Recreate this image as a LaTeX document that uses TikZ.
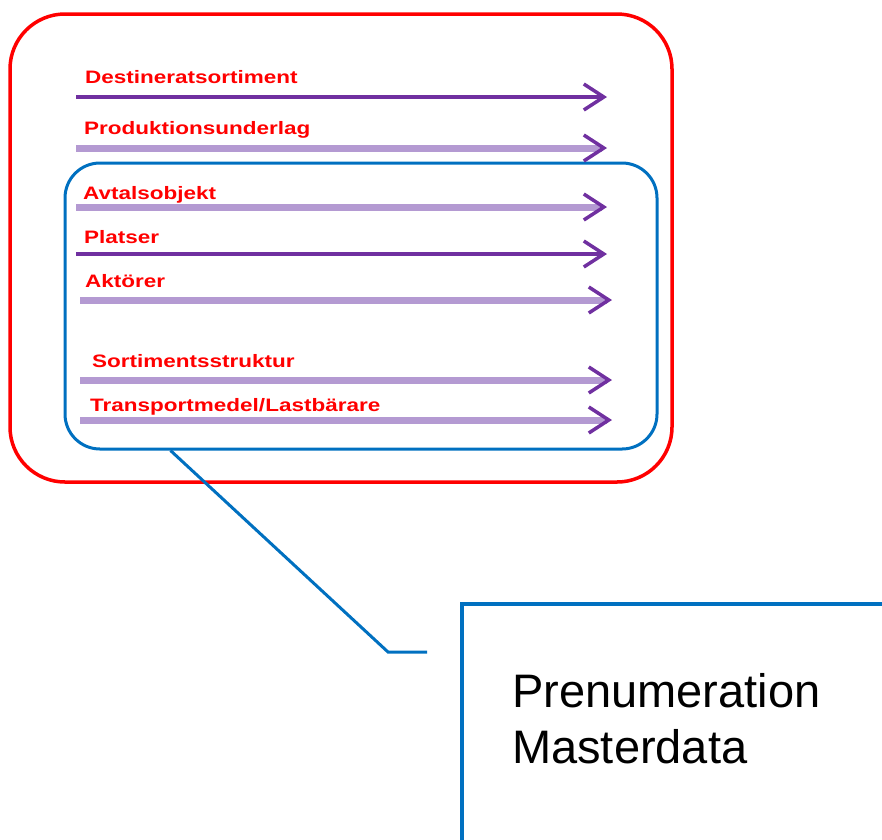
\documentclass[tikz,border=0pt]{standalone}
\usepackage{fontspec}
\setmainfont{Liberation Sans}
\newfontfamily\lblfont[FakeStretch=1.25]{Liberation Sans}
\usetikzlibrary{arrows.meta}
\definecolor{boxred}{HTML}{FF0000}
\definecolor{boxblue}{HTML}{0070C0}
\definecolor{darkpurple}{HTML}{7030A0}
\definecolor{lightpurple}{HTML}{B49AD2}

\begin{document}
\begin{tikzpicture}[x=1pt, y=-1pt,
	lbl/.style={anchor=base west, inner sep=0pt, text=boxred, font=\lblfont\bfseries\fontsize{18}{20}\selectfont},
	feed/.style={darkpurple, line width=4pt, -{Straight Barb[length=20pt, width=26pt, line width=3.5pt, color=darkpurple]}},
	feedlight/.style={feed, lightpurple, line width=7pt}]
		\useasboundingbox (0,0) rectangle (882,839);
		\clip (0,0) rectangle (882,839);
		% frames
		\node[draw=boxred, line width=3.5pt, rounded corners=55pt, minimum width=662pt, minimum height=468pt] (outer) at (341,248) {};
		\node[draw=boxblue, line width=3pt, rounded corners=35pt, minimum width=592pt, minimum height=286pt] (inner) at (361,306) {};
		\node[draw=boxblue, line width=3.5pt, anchor=north west, minimum width=500pt, minimum height=300pt] (callout) at (460,602) {};
		\node[anchor=north west, inner sep=0pt, align=left, font=\fontsize{47}{56}\selectfont] (title) at (512,673) {Prenumeration\\Masterdata};
		% callout line
		\coordinate (bend) at (388,652);
		\coordinate (tail) at (427,652);
		\draw[boxblue, line width=3pt] ([xshift=107pt]inner.south west) -- (bend) -- (tail);
		% flows
		\node[lbl] (destinerat) at (85,83) {Destineratsortiment};
		\coordinate (destineratA) at (76,97);
		\coordinate (destineratB) at (607,97);
		\draw[feed] (destineratA) -- (destineratB);
		\node[lbl] (produktion) at (84,134) {Produktionsunderlag};
		\coordinate (produktionA) at (76,148);
		\coordinate (produktionB) at (607,148);
		\draw[feedlight] (produktionA) -- (produktionB);
		\node[lbl] (avtal) at (83,199) {Avtalsobjekt};
		\coordinate (avtalA) at (76,207);
		\coordinate (avtalB) at (607,207);
		\draw[feedlight] (avtalA) -- (avtalB);
		\node[lbl] (platser) at (84,243) {Platser};
		\coordinate (platserA) at (76,254);
		\coordinate (platserB) at (607,254);
		\draw[feed] (platserA) -- (platserB);
		\node[lbl] (aktorer) at (85,287) {Aktörer};
		\coordinate (aktorerA) at (80,300);
		\coordinate (aktorerB) at (612,300);
		\draw[feedlight] (aktorerA) -- (aktorerB);
		\node[lbl] (sortiment) at (92,367) {Sortimentsstruktur};
		\coordinate (sortimentA) at (80,380);
		\coordinate (sortimentB) at (612,380);
		\draw[feedlight] (sortimentA) -- (sortimentB);
		\node[lbl] (transport) at (90,411) {Transportmedel/Lastbärare};
		\coordinate (transportA) at (80,420);
		\coordinate (transportB) at (612,420);
		\draw[feedlight] (transportA) -- (transportB);
\end{tikzpicture}
\end{document}
